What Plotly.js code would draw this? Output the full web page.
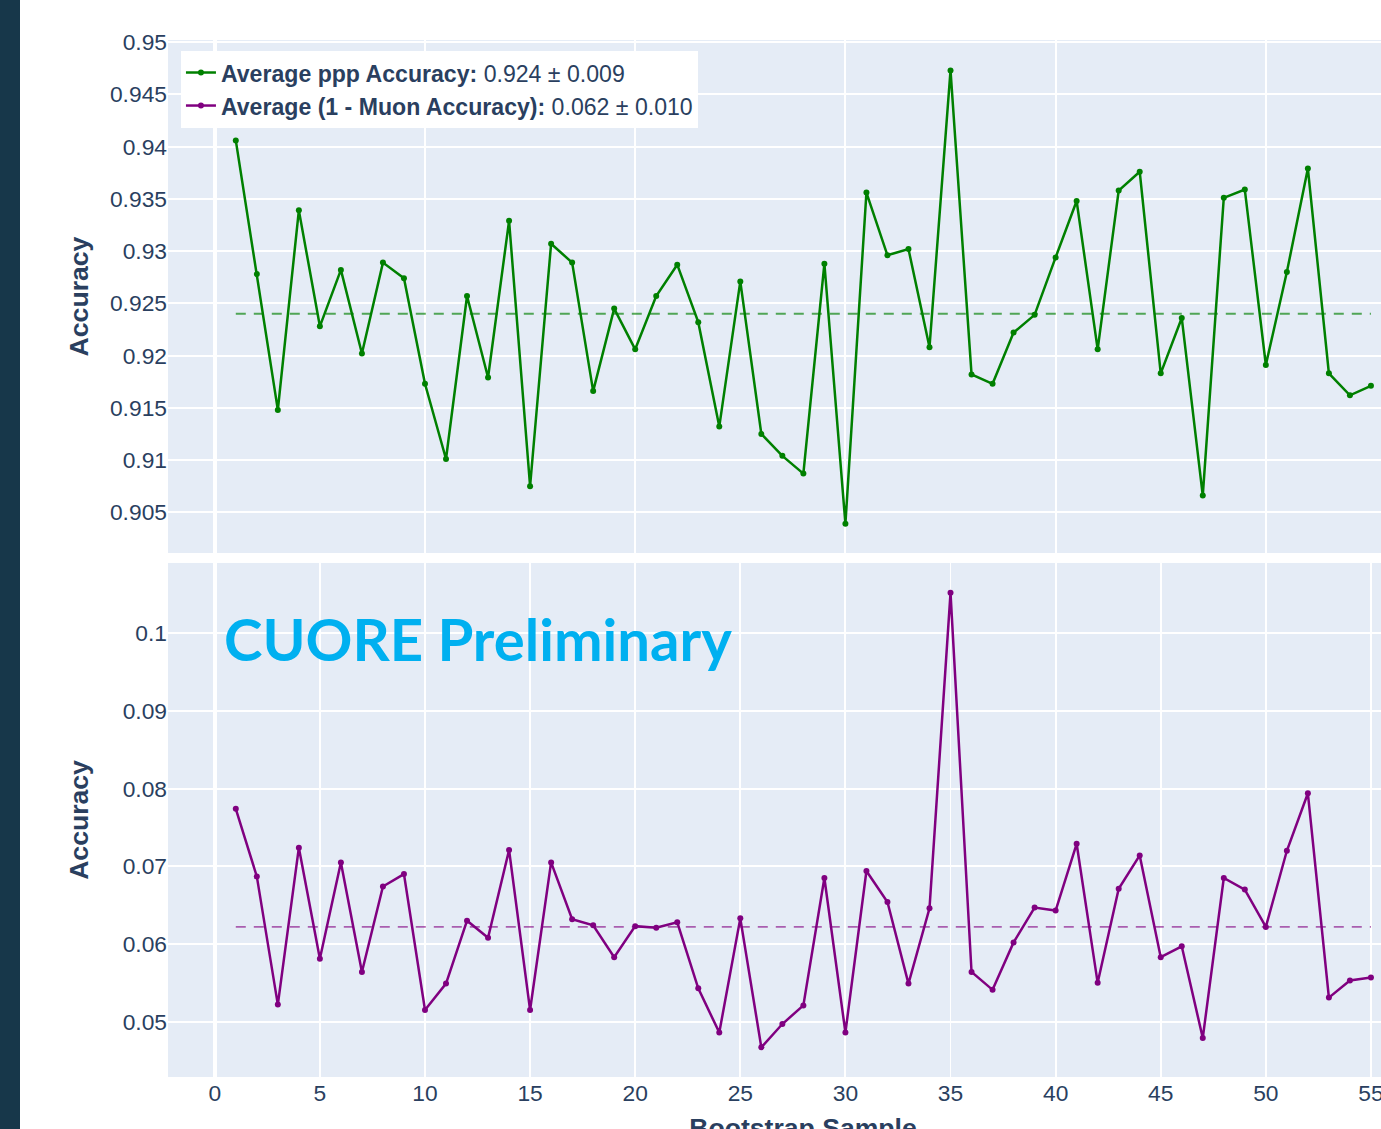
<!DOCTYPE html>
<html>
<head>
<meta charset="utf-8">
<script src="https://cdn.plot.ly/plotly-3.0.1.min.js"></script>
<style>
  html, body { margin: 0; padding: 0; overflow: hidden; background: #ffffff; }
  #strip { position: absolute; left: 0; top: 0; width: 20px; height: 1129px; background: #17374a; z-index: 10; }
  #chart { position: absolute; left: 0; top: 0; width: 1450px; height: 1200px; }
</style>
</head>
<body>
<div id="strip"></div>
<div id="chart"></div>
<script>
// Bootstrap sample indices
const samples = [1,2,3,4,5,6,7,8,9,10,11,12,13,14,15,16,17,18,19,20,21,22,23,24,25,26,27,28,29,30,31,32,33,34,35,36,37,38,39,40,41,42,43,44,45,46,47,48,49,50,51,52,53,54,55];

// ppp accuracy per bootstrap sample
const pppAccuracy = [0.9406,0.9278,0.9148,0.9339,0.9228,0.9282,0.9202,0.9289,0.9274,0.9173,
  0.9101,0.9257,0.9179,0.9329,0.9075,0.9307,0.9289,0.9166,0.9245,0.9206,
  0.9257,0.9287,0.9232,0.9132,0.9271,0.9125,0.9104,0.9087,0.9288,0.9039,
  0.9356,0.9296,0.9302,0.9208,0.9473,0.9182,0.9173,0.9222,0.9239,0.9294,
  0.9348,0.9206,0.9358,0.9376,0.9183,0.9236,0.9066,0.9351,0.9359,0.9191,
  0.9280,0.9379,0.9183,0.9162,0.9171];

// 1 - muon accuracy per bootstrap sample
const oneMinusMuon = [0.0774,0.0687,0.0522,0.0724,0.0581,0.0705,0.0564,0.0674,0.0690,0.0515,
  0.0549,0.0630,0.0608,0.0721,0.0515,0.0705,0.0632,0.0624,0.0583,0.0623,
  0.0621,0.0628,0.0543,0.0486,0.0633,0.0467,0.0497,0.0521,0.0685,0.0486,
  0.0694,0.0654,0.0549,0.0646,0.1052,0.0564,0.0541,0.0602,0.0647,0.0643,
  0.0729,0.0550,0.0671,0.0714,0.0583,0.0597,0.0479,0.0685,0.0670,0.0622,
  0.0720,0.0794,0.0531,0.0553,0.0557];

const pppMean = 0.924, pppStd = 0.009;
const muonMean = 0.0622, muonMeanLabel = "0.062", muonStdLabel = "0.010";

const meanX = [samples[0], samples[samples.length - 1]];

const FONT = "Liberation Sans, Arial, sans-serif";
const TXT = "#2a3f5f";

const traces = [
  {
    x: samples, y: pppAccuracy, xaxis: "x", yaxis: "y",
    type: "scatter", mode: "lines+markers",
    name: "<b>Average ppp Accuracy:</b> " + pppMean.toFixed(3) + " ± " + pppStd.toFixed(3),
    line: { color: "#008000", width: 2.5 },
    marker: { color: "#008000", size: 6 }
  },
  {
    x: meanX, y: [pppMean, pppMean], xaxis: "x", yaxis: "y",
    type: "scatter", mode: "lines", showlegend: false, hoverinfo: "skip",
    line: { color: "rgba(0,128,0,0.65)", width: 1.9, dash: "10px,8px" }
  },
  {
    x: samples, y: oneMinusMuon, xaxis: "x2", yaxis: "y2",
    type: "scatter", mode: "lines+markers",
    name: "<b>Average (1 - Muon Accuracy):</b> " + muonMeanLabel + " ± " + muonStdLabel,
    line: { color: "#800080", width: 2.5 },
    marker: { color: "#800080", size: 6 }
  },
  {
    x: meanX, y: [muonMean, muonMean], xaxis: "x2", yaxis: "y2",
    type: "scatter", mode: "lines", showlegend: false, hoverinfo: "skip",
    line: { color: "rgba(128,0,128,0.6)", width: 1.9, dash: "10px,8px" }
  }
];

// plot areas: top 40..553 px, bottom 563..1077 px (chart height 1200, bottom margin 123)
const H = 1200, T = 40, B = 123;
const xRange = [-2.225, 58.19];
const gridCommon = {
  gridcolor: "#ffffff", gridwidth: 1.9,
  zeroline: true, zerolinecolor: "#ffffff", zerolinewidth: 3.8,
  showline: false, ticks: "",
  tickfont: { family: FONT, size: 22.8, color: TXT }
};
const titleFont = { family: FONT, size: 26.6, color: TXT };

const layout = {
  width: 1450, height: H,
  margin: { l: 168, r: 12, t: T, b: B },
  paper_bgcolor: "#ffffff",
  plot_bgcolor: "#e5ecf6",
  font: { family: FONT, size: 22.8, color: TXT },
  showlegend: true,
  legend: {
    x: 0.0102, y: 0.9894, xanchor: "left", yanchor: "top",
    bgcolor: "#ffffff", borderwidth: 0,
    font: { family: FONT, size: 23.1, color: TXT }
  },
  xaxis: Object.assign({}, gridCommon, {
    domain: [0, 1], anchor: "y", range: xRange,
    tick0: 0, dtick: 10, showticklabels: false
  }),
  yaxis: Object.assign({}, gridCommon, {
    domain: [0.5053, 1], anchor: "x",
    range: [0.90110, 0.95021], tick0: 0.9, dtick: 0.005,
    title: { text: "<b>Accuracy</b>", font: titleFont, standoff: 13 }
  }),
  xaxis2: Object.assign({}, gridCommon, {
    domain: [0, 1], anchor: "y2", range: xRange,
    tick0: 0, dtick: 5,
    title: { text: "<b>Bootstrap Sample</b>", font: titleFont, standoff: 13 }
  }),
  yaxis2: Object.assign({}, gridCommon, {
    domain: [0, 0.4957], anchor: "x2",
    range: [0.04288, 0.10905], tick0: 0, dtick: 0.01,
    title: { text: "<b>Accuracy</b>", font: titleFont, standoff: 26 }
  }),
  annotations: [
    {
      text: "<b>CUORE Preliminary</b>",
      xref: "paper", yref: "paper",
      x: 0.0425, y: 0.4225, xanchor: "left", yanchor: "middle",
      showarrow: false,
      font: { family: "Lato, sans-serif", size: 58.1, color: "#00b0f0" }
    }
  ]
};

Plotly.newPlot("chart", traces, layout, { displayModeBar: false, staticPlot: true });
</script>
</body>
</html>
